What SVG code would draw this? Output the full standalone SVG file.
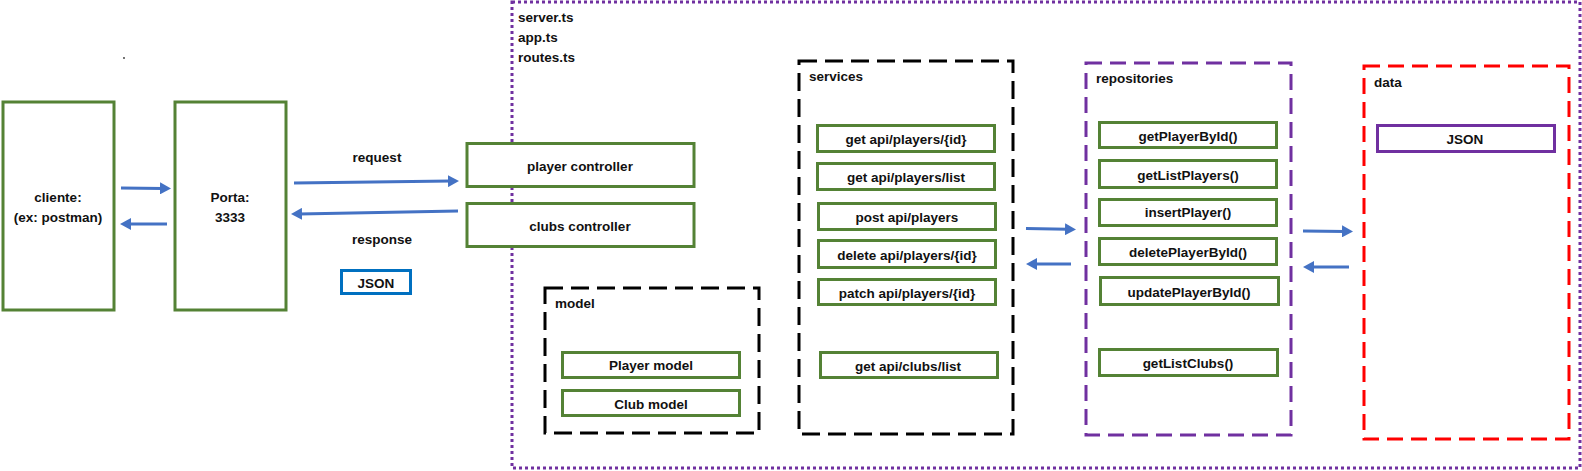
<svg xmlns="http://www.w3.org/2000/svg" width="1582" height="471" viewBox="0 0 1582 471">
<style>
  text { font-family: "Liberation Sans", Arial, sans-serif; font-weight: bold; font-size: 13.5px; fill: #111; }
  .c { text-anchor: middle; }
  .g { fill: #fff; stroke: #548235; stroke-width: 3; }
  .blue { fill: #fff; stroke: #0070c0; stroke-width: 3; }
  .pbox { fill: #fff; stroke: #7030a0; stroke-width: 3; }
  .outer { fill: none; stroke: #7030a0; stroke-width: 3; stroke-dasharray: 3 3; }
  .blk { fill: none; stroke: #000; stroke-width: 3; stroke-dasharray: 18 8; }
  .pd { fill: none; stroke: #7030a0; stroke-width: 3; stroke-dasharray: 16 8; }
  .rd { fill: none; stroke: #ff0000; stroke-width: 3; stroke-dasharray: 16 8; }
  .arr { stroke: #4472c4; stroke-width: 3; fill: none; marker-end: url(#ah); }
</style>
<defs>
  <marker id="ah" viewBox="0 0 11 12" refX="3" refY="6" markerWidth="11" markerHeight="12" markerUnits="userSpaceOnUse" orient="auto">
    <path d="M0,0 L11,6 L0,12 Z" fill="#4472c4"/>
  </marker>
</defs>
<rect width="1582" height="471" fill="#fff"/>
<circle cx="124" cy="58" r="0.9" fill="#333"/>

<g id="backend">
  <rect class="outer" x="512" y="2" width="1068" height="466"/>
  <text x="518" y="22">server.ts</text>
  <text x="518" y="42">app.ts</text>
  <text x="518" y="62">routes.ts</text>
</g>

<g id="cliente">
  <rect class="g" x="3" y="102" width="111" height="208"/>
  <text class="c" x="58" y="202">cliente:</text>
  <text class="c" x="58" y="222">(ex: postman)</text>
</g>
<g id="porta">
  <rect class="g" x="175" y="102" width="111" height="208"/>
  <text class="c" x="230" y="202">Porta:</text>
  <text class="c" x="230" y="222">3333</text>
</g>
<g id="request-label"><text class="c" x="377" y="162">request</text></g>
<g id="response-label"><text class="c" x="382" y="244">response</text></g>
<g id="json-response">
  <rect class="blue" x="341.5" y="270.5" width="69" height="23"/>
  <text class="c" x="376" y="288">JSON</text>
</g>

<g id="player-controller">
  <rect class="g" x="467" y="143.5" width="227" height="43"/>
  <text class="c" x="580" y="171">player controller</text>
</g>
<g id="clubs-controller">
  <rect class="g" x="467" y="203.5" width="227" height="43"/>
  <text class="c" x="580" y="231">clubs controller</text>
</g>

<g id="model">
  <rect class="blk" x="545" y="288" width="214" height="145"/>
  <text x="555" y="308">model</text>
  <g id="player-model">
    <rect class="g" x="562.5" y="352.5" width="177" height="25"/>
    <text class="c" x="651" y="370">Player model</text>
  </g>
  <g id="club-model">
    <rect class="g" x="562.5" y="390.5" width="177" height="25"/>
    <text class="c" x="651" y="409">Club model</text>
  </g>
</g>

<g id="services">
  <rect class="blk" x="799" y="61" width="214" height="373"/>
  <text x="809" y="81">services</text>
  <g id="svc-get-id">
    <rect class="g" x="817.5" y="125.5" width="177" height="26"/>
    <text class="c" x="906" y="144">get api/players/{id}</text>
  </g>
  <g id="svc-get-list">
    <rect class="g" x="817.5" y="163.5" width="177" height="26"/>
    <text class="c" x="906" y="182">get api/players/list</text>
  </g>
  <g id="svc-post">
    <rect class="g" x="818.5" y="203.5" width="177" height="26"/>
    <text class="c" x="907" y="222">post api/players</text>
  </g>
  <g id="svc-delete">
    <rect class="g" x="818.5" y="240.5" width="177" height="27"/>
    <text class="c" x="907" y="260">delete api/players/{id}</text>
  </g>
  <g id="svc-patch">
    <rect class="g" x="818.5" y="279.5" width="177" height="25"/>
    <text class="c" x="907" y="298">patch api/players/{id}</text>
  </g>
  <g id="svc-clubs">
    <rect class="g" x="820.5" y="352.5" width="177" height="25"/>
    <text class="c" x="908" y="371">get api/clubs/list</text>
  </g>
</g>

<g id="repositories">
  <rect class="pd" x="1086" y="63" width="205" height="372"/>
  <text x="1096" y="83">repositories</text>
  <g id="repo-getPlayerById">
    <rect class="g" x="1099.5" y="122.5" width="177" height="25"/>
    <text class="c" x="1188" y="141">getPlayerById()</text>
  </g>
  <g id="repo-getListPlayers">
    <rect class="g" x="1099.5" y="160.5" width="177" height="27"/>
    <text class="c" x="1188" y="180">getListPlayers()</text>
  </g>
  <g id="repo-insertPlayer">
    <rect class="g" x="1099.5" y="199.5" width="177" height="26"/>
    <text class="c" x="1188" y="217">insertPlayer()</text>
  </g>
  <g id="repo-deletePlayerById">
    <rect class="g" x="1099.5" y="238.5" width="177" height="26"/>
    <text class="c" x="1188" y="257">deletePlayerById()</text>
  </g>
  <g id="repo-updatePlayerById">
    <rect class="g" x="1100.5" y="277.5" width="178" height="27"/>
    <text class="c" x="1189" y="297">updatePlayerById()</text>
  </g>
  <g id="repo-getListClubs">
    <rect class="g" x="1099.5" y="349.5" width="178" height="26"/>
    <text class="c" x="1188" y="368">getListClubs()</text>
  </g>
</g>

<g id="data">
  <rect class="rd" x="1364" y="66" width="205" height="373"/>
  <text x="1374" y="87">data</text>
  <g id="data-json">
    <rect class="pbox" x="1377.5" y="125.5" width="177" height="26"/>
    <text class="c" x="1465" y="144">JSON</text>
  </g>
</g>

<g id="connectors">
  <line class="arr" x1="121" y1="188" x2="163" y2="188.4"/>
  <line class="arr" x1="167" y1="224" x2="128" y2="224"/>
  <line class="arr" x1="294" y1="183" x2="451" y2="181.1"/>
  <line class="arr" x1="458" y1="211" x2="299" y2="213.9"/>
  <line class="arr" x1="1026" y1="228.5" x2="1068" y2="229.3"/>
  <line class="arr" x1="1071" y1="264" x2="1034" y2="264"/>
  <line class="arr" x1="1303" y1="231" x2="1345" y2="231.4"/>
  <line class="arr" x1="1349" y1="267" x2="1311" y2="267"/>
</g>
</svg>
